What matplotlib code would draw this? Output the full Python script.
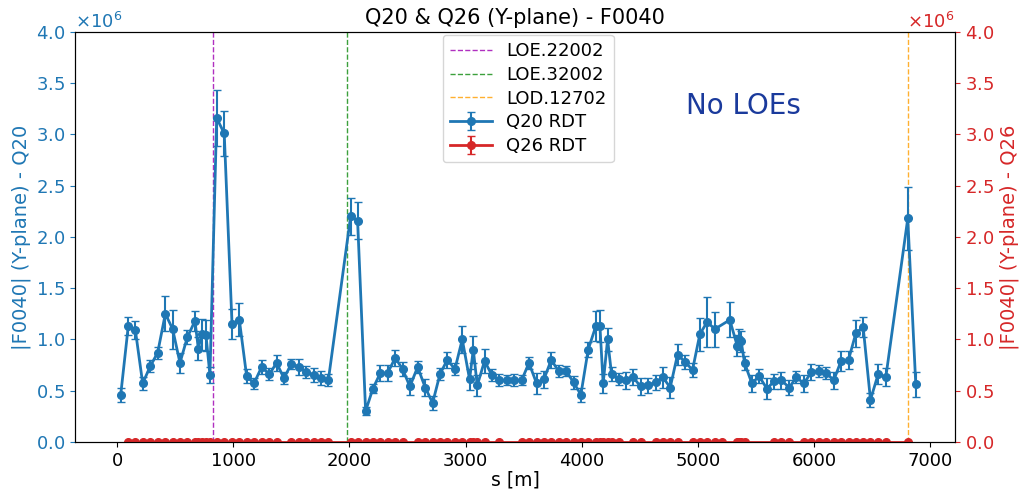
import numpy as np
import matplotlib
matplotlib.use('Agg')
import matplotlib.pyplot as plt

# Q20 RDT along s (values in units of 1e6)
s_q20 = [32, 97, 158, 221, 287, 350, 416, 479, 542, 605,
         671, 700, 729, 766, 800, 858, 923, 990, 1053, 1116,
         1179, 1245, 1311, 1374, 1437, 1500, 1566, 1629, 1693, 1756,
         1819, 2011, 2071, 2140, 2203, 2266, 2329, 2395, 2458, 2521,
         2588, 2653, 2717, 2780, 2843, 2909, 2972, 3035, 3067, 3101,
         3164, 3227, 3290, 3354, 3419, 3483, 3546, 3612, 3675, 3738,
         3801, 3867, 3930, 3993, 4056, 4122, 4157, 4185, 4223, 4257,
         4317, 4380, 4443, 4507, 4572, 4636, 4699, 4762, 4825, 4891,
         4954, 5017, 5080, 5146, 5275, 5338, 5355, 5373, 5402, 5465,
         5527, 5594, 5657, 5720, 5786, 5849, 5912, 5978, 6041, 6107,
         6170, 6233, 6297, 6360, 6423, 6486, 6552, 6618, 6807, 6876]
q20 = [0.46, 1.13, 1.09, 0.57, 0.74, 0.87, 1.25, 1.10, 0.77, 1.02,
       1.18, 0.91, 1.05, 1.04, 0.65, 3.16, 3.01, 1.15, 1.19, 0.64,
       0.57, 0.73, 0.66, 0.77, 0.62, 0.76, 0.73, 0.68, 0.65, 0.62,
       0.60, 2.20, 2.16, 0.30, 0.52, 0.67, 0.67, 0.82, 0.71, 0.54,
       0.73, 0.53, 0.38, 0.66, 0.80, 0.71, 1.00, 0.61, 0.90, 0.55,
       0.79, 0.65, 0.60, 0.60, 0.60, 0.60, 0.77, 0.57, 0.61, 0.80,
       0.69, 0.69, 0.58, 0.46, 0.90, 1.13, 1.13, 0.57, 1.00, 0.66,
       0.61, 0.60, 0.63, 0.54, 0.55, 0.58, 0.63, 0.53, 0.85, 0.78,
       0.70, 1.05, 1.17, 1.10, 1.19, 0.94, 1.00, 0.98, 0.77, 0.57,
       0.64, 0.52, 0.59, 0.60, 0.53, 0.63, 0.57, 0.68, 0.69, 0.67,
       0.60, 0.79, 0.80, 1.06, 1.12, 0.41, 0.66, 0.63, 2.18, 0.56]
q20_err = [0.07, 0.09, 0.09, 0.06, 0.06, 0.06, 0.17, 0.19, 0.10, 0.07,
           0.10, 0.11, 0.15, 0.15, 0.08, 0.27, 0.22, 0.15, 0.16, 0.07,
           0.05, 0.07, 0.06, 0.08, 0.06, 0.05, 0.08, 0.06, 0.07, 0.07,
           0.06, 0.18, 0.18, 0.04, 0.04, 0.08, 0.08, 0.08, 0.07, 0.08,
           0.06, 0.08, 0.07, 0.06, 0.08, 0.06, 0.13, 0.10, 0.13, 0.10,
           0.12, 0.06, 0.06, 0.05, 0.06, 0.05, 0.06, 0.10, 0.08, 0.08,
           0.06, 0.05, 0.06, 0.07, 0.07, 0.15, 0.16, 0.09, 0.11, 0.07,
           0.06, 0.08, 0.08, 0.08, 0.07, 0.07, 0.10, 0.10, 0.10, 0.07,
           0.07, 0.16, 0.24, 0.17, 0.17, 0.10, 0.10, 0.10, 0.07, 0.08,
           0.07, 0.10, 0.07, 0.08, 0.07, 0.06, 0.08, 0.08, 0.06, 0.06,
           0.08, 0.10, 0.09, 0.13, 0.10, 0.07, 0.10, 0.09, 0.31, 0.12]

# Q26 RDT - basically zero everywhere
s_q26 = [97, 158, 221, 287, 350, 416, 479, 542, 605,
         671, 700, 729, 766, 800, 858, 923, 990, 1053, 1116,
         1179, 1245, 1311, 1374, 1500, 1566, 1629, 1693, 1756,
         1819, 2011, 2071, 2140, 2203, 2266, 2329, 2395, 2458,
         2588, 2653, 2717, 2780, 2843, 2909, 2972, 3035, 3067, 3101,
         3164, 3290, 3483, 3546, 3612, 3675, 3738,
         3801, 3867, 3930, 3993, 4056, 4122, 4157, 4185, 4223, 4257,
         4317, 4443, 4507, 4636, 4699, 4762, 4825,
         4954, 5017, 5080, 5146, 5209, 5338, 5355, 5373, 5402,
         5657, 5720, 5786, 5912, 5978, 6041, 6107,
         6170, 6233, 6297, 6360, 6423, 6486, 6552, 6618, 6807]
q26 = [0.0] * len(s_q26)
q26_err = [0.001] * len(s_q26)

# element locations
elements = ['LOE.22002', 'LOE.32002', 'LOD.12702']
element_s = [826, 1979, 6807]
element_colors = ['#b030c0', '#3ca03c', '#ffb030']

blue = '#1f77b4'
red = '#d62728'

fig, ax = plt.subplots(figsize=(10.3, 4.92), dpi=100)
fig.subplots_adjust(left=0.073, right=0.927, top=0.935, bottom=0.102)
ax2 = ax.twinx()

handles = []
for name, pos, c in zip(elements, element_s, element_colors):
    h = ax.axvline(pos, color=c, linestyle='--', linewidth=1, label=name)
    handles.append(h)

h1 = ax.errorbar(s_q20, np.array(q20) * 1e6, yerr=np.array(q20_err) * 1e6,
                 fmt='o-', color=blue, markersize=5.5, linewidth=2,
                 capsize=3, elinewidth=1.5, label='Q20 RDT')
h2 = ax2.errorbar(s_q26, np.array(q26) * 1e6, yerr=np.array(q26_err) * 1e6,
                  fmt='o-', color=red, markersize=5.5, linewidth=2,
                  capsize=3, elinewidth=1.5, label='Q26 RDT')
handles += [h1, h2]

ax.set_xlim(-360, 7212)
ax.set_xticks(np.arange(0, 7001, 1000))
for a, c in [(ax, blue), (ax2, red)]:
    a.set_ylim(0, 4e6)
    a.set_yticks(np.arange(0, 4.01e6, 0.5e6))
    a.ticklabel_format(axis='y', style='sci', scilimits=(6, 6), useMathText=True)
    a.tick_params(axis='y', colors=c, labelsize=13)
    a.yaxis.get_offset_text().set_color(c)
    a.yaxis.get_offset_text().set_fontsize(13)
ax.tick_params(axis='x', labelsize=13)

ax.set_xlabel('s [m]', fontsize=13.5, labelpad=1)
ax.set_ylabel('|F0040| (Y-plane) - Q20', color=blue, fontsize=14)
ax2.set_ylabel('|F0040| (Y-plane) - Q26', color=red, fontsize=14)
ax.set_title('Q20 & Q26 (Y-plane) - F0040', fontsize=15)

ax2.legend(handles=handles, loc='upper left', bbox_to_anchor=(0.418, 0.993),
           borderaxespad=0, fontsize=13, handlelength=2.3, labelspacing=0.32)
ax2.text(0.694, 0.82, 'No LOEs', transform=ax2.transAxes, fontsize=20,
         color='#1a3a9c', va='center')

plt.savefig('out.png', dpi=100)
